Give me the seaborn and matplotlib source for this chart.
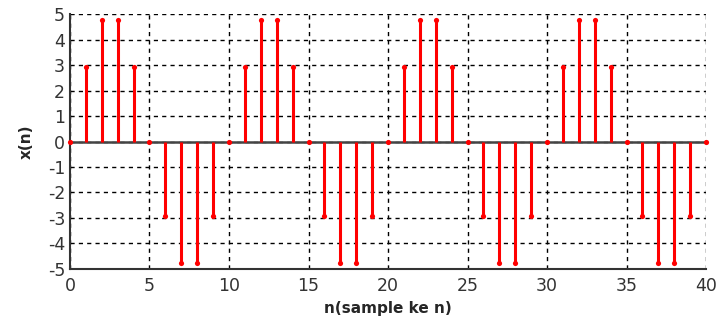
import matplotlib
matplotlib.use("Agg")
import matplotlib.pyplot as plt
import seaborn as sns
import pandas as pd

n_values = list(range(0, 41))
period = [0.0, 2.94, 4.76, 4.76, 2.94, 0.0, -2.94, -4.76, -4.76, -2.94]
x_values = (period * 4) + [0.0]
x_ticks = [0, 5, 10, 15, 20, 25, 30, 35, 40]
y_ticks = [-5, -4, -3, -2, -1, 0, 1, 2, 3, 4, 5]

df = pd.DataFrame({"n": n_values, "x": x_values})

sns.set_style("white")
plt.rcParams['font.family'] = ['DejaVu Sans']
plt.rcParams['axes.unicode_minus'] = False

fig = plt.figure(figsize=(7.2, 3.29), dpi=100)
ax = fig.add_axes([0.0972, 0.1824, 0.8834, 0.775])

ax.set_xlim(0, 40)
ax.set_ylim(-5, 5)
ax.set_xticks(x_ticks)
ax.set_yticks(y_ticks)
ax.grid(True, color="black", linestyle=(0, (3, 3)), linewidth=1)
ax.set_axisbelow(True)

ax.axhline(0, color="#444444", linewidth=1.8, zorder=2)
ax.vlines(df["n"], 0, df["x"], color="red", linewidth=2.2, zorder=3)
sns.scatterplot(data=df, x="n", y="x", ax=ax, color="red", s=14,
                edgecolor="red", linewidth=0, zorder=4, clip_on=False, legend=False)

for side in ["top", "right"]:
    ax.spines[side].set_visible(False)
for side in ["left", "bottom"]:
    ax.spines[side].set_color("#333333")
    ax.spines[side].set_linewidth(1.5)

ax.tick_params(axis="both", labelsize=12.5, colors="#333333", length=4, direction="in")
ax.tick_params(axis="x", pad=6)
ax.set_xlabel("n(sample ke n)", fontsize=11, fontweight="bold", labelpad=4)
ax.set_ylabel("x(n)", fontsize=11, fontweight="bold", labelpad=10)

fig.savefig("out.png", dpi=100)
